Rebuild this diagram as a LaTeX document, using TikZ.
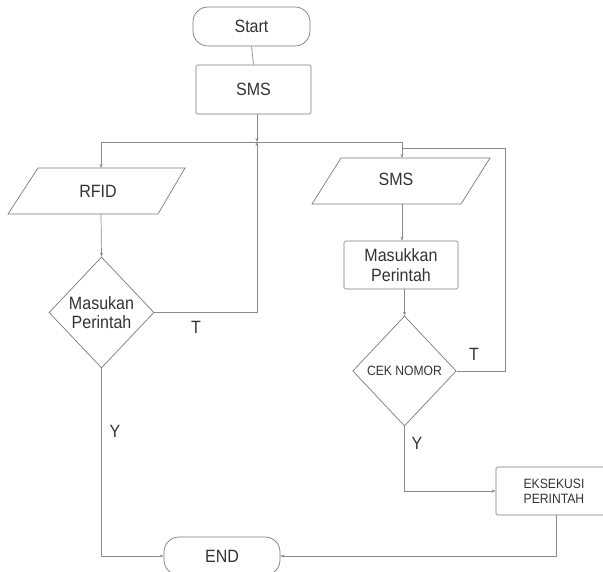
\documentclass[tikz,border=0pt]{standalone}
\usepackage{fontspec}
\setmainfont{Liberation Sans}[FakeStretch=0.9]
\usetikzlibrary{shapes.geometric,arrows.meta}
\definecolor{txt}{HTML}{333333}
\definecolor{ln}{HTML}{8A8A8A}
\definecolor{bd}{HTML}{7A7A7A}
\begin{document}
\begin{tikzpicture}[x=1pt,y=-1pt,
  every node/.style={text=txt},
  box/.style={draw=bd,line width=0.7pt,rounded corners=1.5pt,inner sep=0pt,font=\fontsize{17.8}{20}\selectfont,align=center},
  term/.style={draw=bd,line width=0.7pt,rounded corners=15pt,inner sep=0pt,font=\fontsize{17.8}{20}\selectfont},
  dec/.style={draw=bd,line width=0.7pt,shape=diamond,inner sep=0pt,align=center},
  conn/.style={draw=ln,line width=0.7pt},
  arr/.style={conn,-{Stealth[length=4pt,width=3pt]}},
  lbl/.style={font=\fontsize{17.8}{20}\selectfont},
  io/.style={draw=bd,line width=0.7pt}]
\useasboundingbox (0,0) rectangle (603,572);
\fill[white] (0,0) rectangle (603,572);

% terminals and processes
\node[term,minimum width=117pt,minimum height=39pt] (start) at (251.5,26.5) {Start};
\node[box,minimum width=115pt,minimum height=49pt] (sms) at (253.5,89.5) {SMS};
\node[box,minimum width=114pt,minimum height=48pt] (mp) at (401,265) {Masukkan\\Perintah};
\node[box,minimum width=116pt,minimum height=48pt,font=\fontsize{13.5}{15}\selectfont] (eks) at (554,491) {EKSEKUSI\\PERINTAH};
\node[term,minimum width=116pt,minimum height=38pt] (end) at (222,556) {END};

% input parallelograms
\draw[io] (38,168) -- (185,168) -- (158,214) -- (8,214) -- cycle;
\node[lbl] (rfid) at (98,191) {RFID};
\draw[io] (341,158) -- (490,158) -- (461,204) -- (312,204) -- cycle;
\node[lbl] (sms2) at (396,179) {SMS};

% decisions
\node[dec,minimum width=105pt,minimum height=111pt,font=\fontsize{17.8}{19.5}\selectfont] (d1) at (101.5,312.5) {Masukan\\Perintah};
\node[dec,minimum width=103.5pt,minimum height=110pt,font=\fontsize{13.5}{15}\selectfont] (d2) at (404.5,371) {CEK NOMOR};

% connector points
\coordinate (j) at (257,142);
\coordinate (smsb) at (257,114);
\coordinate (rfidt) at (101,168);
\coordinate (rfidb) at (101,214);
\coordinate (sms2t) at (402,158);
\coordinate (sms2b) at (402,204);
\coordinate (lp) at (402,148);
\coordinate (eksb) at (556,515);

\draw[conn] (start.south) -- (sms.north);
\draw[arr] (smsb) -- (j);
\draw[arr] (j) -| (rfidt);
\draw[arr] (j) -| (sms2t);
\draw[arr] (d1.east) -| (j);
\draw[conn] (d2.east) -- (505,371) |- (lp);
\draw[arr] (rfidb) -- (d1.north);
\draw[arr] (sms2b) -- (mp.north -| sms2b);
\draw[arr] (mp.south -| d2.north) -- (d2.north);
\draw[arr] (d2.south) |- (eks.west);
\draw[arr] (d1.south) |- (end.west);
\draw[arr] (eksb) |- (end.east);

% labels
\node[lbl] (t1) at (196,327) {T};
\node[lbl] (t2) at (474,354) {T};
\node[lbl] (y1) at (115,431) {Y};
\node[lbl] (y2) at (417,443) {Y};
\end{tikzpicture}
\end{document}
